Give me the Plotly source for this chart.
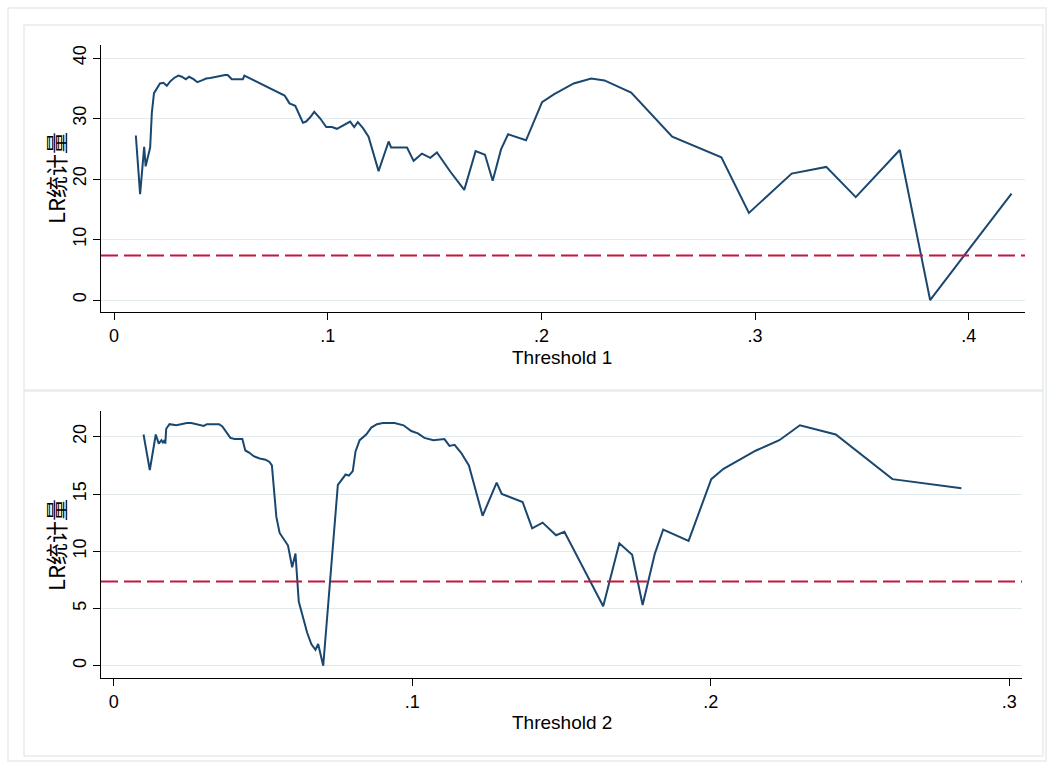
import plotly.graph_objects as go

# LR statistic profile for the first threshold
threshold1 = [0.0102, 0.0122, 0.0141, 0.0148, 0.0169, 0.0177, 0.0187, 0.0200, 0.0215, 0.0231,
              0.0247, 0.0262, 0.0281, 0.0301, 0.0317, 0.0336, 0.0351, 0.0372, 0.0390, 0.0411,
              0.0431, 0.0450, 0.0473, 0.0496, 0.0520, 0.0532, 0.0551, 0.0575, 0.0603, 0.0610,
              0.0798, 0.0809, 0.0821, 0.0848, 0.0863, 0.0884, 0.0899, 0.0918, 0.0937, 0.0965,
              0.0993, 0.1020, 0.1043, 0.1074, 0.1105, 0.1124, 0.1141, 0.1165, 0.1191, 0.1238,
              0.1285, 0.1297, 0.1371, 0.1402, 0.1441, 0.1480, 0.1511, 0.1574, 0.1639, 0.1692,
              0.1736, 0.1772, 0.1811, 0.1844, 0.1928, 0.2003, 0.2058, 0.2151, 0.2233, 0.2295,
              0.2420, 0.2612, 0.2842, 0.2971, 0.3171, 0.3333, 0.3471, 0.3677, 0.3819, 0.4200]
lr1 = [27.2, 17.5, 25.3, 22.1, 25.2, 31.0, 34.2, 35.0, 35.8, 35.9,
       35.4, 36.1, 36.7, 37.1, 36.9, 36.5, 36.9, 36.5, 36.0, 36.3,
       36.6, 36.7, 36.9, 37.0, 37.2, 37.2, 36.5, 36.5, 36.5, 37.1,
       33.8, 33.2, 32.5, 32.1, 30.9, 29.3, 29.5, 30.2, 31.1, 30.0,
       28.6, 28.6, 28.3, 28.9, 29.5, 28.6, 29.4, 28.4, 27.0, 21.3,
       26.2, 25.2, 25.2, 23.0, 24.2, 23.5, 24.4, 21.2, 18.2, 24.6,
       24.0, 19.7, 24.9, 27.4, 26.4, 32.7, 34.0, 35.8, 36.6, 36.3,
       34.3, 27.0, 23.6, 14.4, 20.9, 22.0, 17.0, 24.8, 0.0, 17.6]

# LR statistic profile for the second threshold
threshold2 = [0.0100, 0.0121, 0.0141, 0.0151, 0.0160, 0.0165, 0.0171, 0.0173, 0.0176, 0.0187,
              0.0210, 0.0227, 0.0245, 0.0260, 0.0277, 0.0288, 0.0296, 0.0302, 0.0312, 0.0327,
              0.0353, 0.0364, 0.0377, 0.0391, 0.0405, 0.0431, 0.0441, 0.0455, 0.0469, 0.0489,
              0.0509, 0.0522, 0.0530, 0.0537, 0.0545, 0.0556, 0.0570, 0.0584, 0.0598, 0.0609,
              0.0620, 0.0634, 0.0648, 0.0662, 0.0676, 0.0685, 0.0702, 0.0751, 0.0777, 0.0788,
              0.0801, 0.0810, 0.0824, 0.0846, 0.0863, 0.0882, 0.0902, 0.0941, 0.0971, 0.0997,
              0.1019, 0.1041, 0.1071, 0.1108, 0.1125, 0.1142, 0.1164, 0.1190, 0.1236, 0.1283,
              0.1300, 0.1370, 0.1402, 0.1437, 0.1482, 0.1510, 0.1640, 0.1694, 0.1737, 0.1772,
              0.1813, 0.1841, 0.1926, 0.2002, 0.2043, 0.2152, 0.2230, 0.2299, 0.2419, 0.2609,
              0.2840]
lr2 = [20.2, 17.1, 20.2, 19.4, 19.7, 19.5, 19.7, 19.4, 20.7, 21.1,
       21.0, 21.1, 21.2, 21.2, 21.1, 21.0, 21.0, 20.95, 21.1, 21.1,
       21.1, 20.9, 20.4, 19.9, 19.8, 19.8, 18.8, 18.6, 18.3, 18.1,
       18.0, 17.8, 17.5, 15.6, 13.0, 11.6, 11.1, 10.5, 8.6, 9.8,
       5.6, 4.2, 2.9, 1.9, 1.4, 1.9, 0.0, 15.8, 16.7, 16.6,
       17.0, 18.7, 19.7, 20.2, 20.8, 21.1, 21.2, 21.2, 21.0, 20.5,
       20.3, 19.9, 19.7, 19.8, 19.2, 19.3, 18.6, 17.5, 13.1, 16.0,
       15.0, 14.3, 12.0, 12.5, 11.4, 11.7, 5.2, 10.7, 9.7, 5.3,
       9.8, 11.9, 10.9, 16.3, 17.2, 18.8, 19.7, 21.0, 20.2, 16.3,
       15.5]

# 5% critical value of the LR statistic
critical_value = 7.35

# axis ticks
x1_ticks = [0, 0.1, 0.2, 0.3, 0.4]
x1_labels = ["0", ".1", ".2", ".3", ".4"]
y1_ticks = [0, 10, 20, 30, 40]
x2_ticks = [0, 0.1, 0.2, 0.3]
x2_labels = ["0", ".1", ".2", ".3"]
y2_ticks = [0, 5, 10, 15, 20]

x_titles = ["Threshold 1", "Threshold 2"]
y_title = "LR统计量"

W, H = 1052, 769
NAVY = "#1a476f"
RED = "#c4163f"
GRID = "#e3eaee"
FRAME = "#e6ecef"
FONT = "Liberation Sans, Arial, sans-serif"
CJK = "Noto Sans CJK SC, sans-serif"
TICK_FS = 18
TITLE_FS = 19


def px_x(p):
    return p / W


def px_y(p):
    return 1 - p / H


fig = go.Figure()
fig.add_trace(go.Scatter(x=threshold1, y=lr1, mode="lines", xaxis="x", yaxis="y",
                         line=dict(color=NAVY, width=2), showlegend=False))
fig.add_trace(go.Scatter(x=threshold2, y=lr2, mode="lines", xaxis="x2", yaxis="y2",
                         line=dict(color=NAVY, width=2), showlegend=False))

common_x = dict(showgrid=False, zeroline=False, showline=True, linecolor="black", linewidth=1,
                ticks="outside", ticklen=7, tickwidth=1, tickcolor="black",
                tickfont=dict(family=FONT, size=TICK_FS, color="black"), tickmode="array")
common_y = dict(showgrid=True, gridcolor=GRID, gridwidth=1.2, zeroline=False, showline=True,
                linecolor="black", linewidth=1, ticks="outside", ticklen=7, tickwidth=1,
                tickcolor="black", tickangle=-90, tickmode="array",
                tickfont=dict(family=FONT, size=TICK_FS, color="black"))

fig.update_layout(
    width=W, height=H, margin=dict(l=0, r=0, t=0, b=0),
    paper_bgcolor="white", plot_bgcolor="white",
    xaxis=dict(common_x, domain=[px_x(101), px_x(1025)], range=[-0.0061, 0.4263],
               tickvals=x1_ticks, ticktext=x1_labels, anchor="y", ticklabelstandoff=0),
    yaxis=dict(common_y, domain=[px_y(312), px_y(45)], range=[-1.98, 42.15],
               tickvals=y1_ticks, ticktext=[str(v) for v in y1_ticks], anchor="x",
               ticklabelstandoff=0),
    xaxis2=dict(common_x, domain=[px_x(101), px_x(1022)], range=[-0.00425, 0.3043],
                tickvals=x2_ticks, ticktext=x2_labels, anchor="y2", ticklabelstandoff=0),
    yaxis2=dict(common_y, domain=[px_y(678), px_y(411)], range=[-1.07, 22.25],
                tickvals=y2_ticks, ticktext=[str(v) for v in y2_ticks], anchor="x2",
                ticklabelstandoff=0),
)

# critical value reference lines
for xr, yr in (("x", "y"), ("x2", "y2")):
    fig.add_shape(type="line", xref=f"{xr} domain", yref=yr, x0=0, x1=1,
                  y0=critical_value, y1=critical_value,
                  line=dict(color=RED, width=2, dash="17px,6px"), layer="above")

# graph region frames
frames = [(8, 8, 1046, 761), (24, 25, 1043, 390), (24, 391, 1043, 756)]
for x0, y0, x1, y1 in frames:
    fig.add_shape(type="rect", xref="paper", yref="paper",
                  x0=px_x(x0), x1=px_x(x1), y0=px_y(y1), y1=px_y(y0),
                  line=dict(color=FRAME, width=1.5), fillcolor="rgba(0,0,0,0)", layer="below")

# axis titles
for title, ty in zip(x_titles, (357, 722)):
    fig.add_annotation(text=title, xref="paper", yref="paper", x=px_x(562), y=px_y(ty),
                       xanchor="center", yanchor="middle", showarrow=False,
                       font=dict(family=FONT, size=TITLE_FS, color="black"))
for ty in (178, 545):
    fig.add_annotation(text=y_title, xref="paper", yref="paper", x=px_x(55), y=px_y(ty),
                       xanchor="center", yanchor="middle", showarrow=False, textangle=-90,
                       font=dict(family=CJK, size=22, color="black"))

fig.write_html("out.html")
